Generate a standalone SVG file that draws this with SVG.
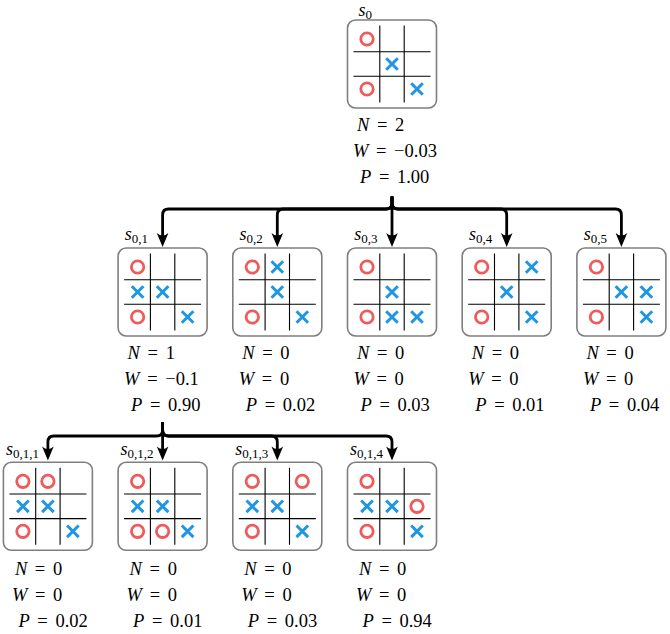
<svg xmlns="http://www.w3.org/2000/svg" xmlns:xlink="http://www.w3.org/1999/xlink" width="670" height="634" viewBox="0 0 670 634">
<style>
.box{fill:#fff;stroke:#7f7f7f;stroke-width:1.6}
.grid{stroke:#000;stroke-width:1.1;fill:none}
.o{fill:none;stroke:#ef5b5b;stroke-width:2.8}
.x{fill:none;stroke:#1e96e3;stroke-width:3}
.conn{fill:none;stroke:#000;stroke-width:2.8;stroke-linejoin:round}
.val{font-family:"Liberation Serif","DejaVu Serif",serif;font-size:18.5px;word-spacing:3px;fill:#000}
.lab{font-family:"Liberation Serif","DejaVu Serif",serif;font-size:18px;fill:#000}
.it{font-style:italic}
.sub{font-size:13px}
</style>
<defs>
<marker id="ah" markerUnits="userSpaceOnUse" viewBox="-15 -7 16 14" markerWidth="16" markerHeight="14" refX="-6" refY="0" orient="auto">
<path d="M0,0 L-14,-5.8 Q-9,0 -14,5.8 Z" fill="#000"/>
</marker>
<g id="gr">
<path class="grid" d="M-12.2,-38.5V38.5M12.2,-38.5V38.5M-38.5,-12.3H38.5M-38.5,12.3H38.5"/>
</g>
<circle id="O" class="o" r="6.2"/>
<path id="X" class="x" d="M-5.8,-5.8L5.8,5.8M5.8,-5.8L-5.8,5.8"/>
</defs>

<g id="connectors">
<path class="conn" marker-end="url(#ah)" d="M392,196.5V203Q392,209 386,209H168.6Q162.6,209 162.6,215V241"/>
<path class="conn" marker-end="url(#ah)" d="M392,196.5V203Q392,209 386,209H283.3Q277.3,209 277.3,215V241"/>
<path class="conn" marker-end="url(#ah)" d="M392,196.5V241"/>
<path class="conn" marker-end="url(#ah)" d="M392,196.5V203Q392,209 398,209H500.7Q506.7,209 506.7,215V241"/>
<path class="conn" marker-end="url(#ah)" d="M392,196.5V203Q392,209 398,209H615.4Q621.4,209 621.4,215V241"/>
<path class="conn" marker-end="url(#ah)" d="M162.6,422V430Q162.6,436 156.6,436H53.9Q47.9,436 47.9,442V454.5"/>
<path class="conn" marker-end="url(#ah)" d="M162.6,422V454.5"/>
<path class="conn" marker-end="url(#ah)" d="M162.6,422V430Q162.6,436 168.6,436H271.3Q277.3,436 277.3,442V454.5"/>
<path class="conn" marker-end="url(#ah)" d="M162.6,422V430Q162.6,436 168.6,436H386Q392,436 392,442V454.5"/>
</g>

<!-- root -->
<g id="s0" transform="translate(392,64)">
<rect class="box" x="-44.5" y="-44" width="89" height="88" rx="8"/>
<use xlink:href="#gr"/>
<use xlink:href="#O" x="-25" y="-25"/>
<use xlink:href="#X" x="0" y="0"/>
<use xlink:href="#O" x="-25" y="25"/><use xlink:href="#X" x="25" y="25"/>
<text class="lab" x="-20" y="-48.5" text-anchor="end"><tspan class="it">s</tspan><tspan class="sub" dy="3">0</tspan></text>
<text class="val" x="-35" y="67"><tspan class="it">N</tspan> = 2</text>
<text class="val" x="-39" y="93"><tspan class="it">W</tspan> = −0.03</text>
<text class="val" x="-32" y="119"><tspan class="it">P</tspan> = 1.00</text>
</g>

<!-- level 1 -->
<g id="s01" transform="translate(162.6,292)">
<rect class="box" x="-44.5" y="-44" width="89" height="88" rx="8"/>
<use xlink:href="#gr"/>
<use xlink:href="#O" x="-25" y="-25"/>
<use xlink:href="#X" x="-25" y="0"/><use xlink:href="#X" x="0" y="0"/>
<use xlink:href="#O" x="-25" y="25"/><use xlink:href="#X" x="25" y="25"/>
<text class="lab" x="-14.5" y="-52" text-anchor="end"><tspan class="it">s</tspan><tspan class="sub" dy="3">0,1</tspan></text>
<text class="val" x="-35" y="66.5"><tspan class="it">N</tspan> = 1</text>
<text class="val" x="-38.5" y="92.5"><tspan class="it">W</tspan> = −0.1</text>
<text class="val" x="-31.5" y="118.5"><tspan class="it">P</tspan> = 0.90</text>
</g>
<g id="s02" transform="translate(277.3,292)">
<rect class="box" x="-44.5" y="-44" width="89" height="88" rx="8"/>
<use xlink:href="#gr"/>
<use xlink:href="#O" x="-25" y="-25"/><use xlink:href="#X" x="0" y="-25"/>
<use xlink:href="#X" x="0" y="0"/>
<use xlink:href="#O" x="-25" y="25"/><use xlink:href="#X" x="25" y="25"/>
<text class="lab" x="-14.5" y="-52" text-anchor="end"><tspan class="it">s</tspan><tspan class="sub" dy="3">0,2</tspan></text>
<text class="val" x="-35" y="66.5"><tspan class="it">N</tspan> = 0</text>
<text class="val" x="-38.5" y="92.5"><tspan class="it">W</tspan> = 0</text>
<text class="val" x="-31.5" y="118.5"><tspan class="it">P</tspan> = 0.02</text>
</g>
<g id="s03" transform="translate(392,292)">
<rect class="box" x="-44.5" y="-44" width="89" height="88" rx="8"/>
<use xlink:href="#gr"/>
<use xlink:href="#O" x="-25" y="-25"/>
<use xlink:href="#X" x="0" y="0"/>
<use xlink:href="#O" x="-25" y="25"/><use xlink:href="#X" x="0" y="25"/><use xlink:href="#X" x="25" y="25"/>
<text class="lab" x="-14.5" y="-52" text-anchor="end"><tspan class="it">s</tspan><tspan class="sub" dy="3">0,3</tspan></text>
<text class="val" x="-35" y="66.5"><tspan class="it">N</tspan> = 0</text>
<text class="val" x="-38.5" y="92.5"><tspan class="it">W</tspan> = 0</text>
<text class="val" x="-31.5" y="118.5"><tspan class="it">P</tspan> = 0.03</text>
</g>
<g id="s04" transform="translate(506.7,292)">
<rect class="box" x="-44.5" y="-44" width="89" height="88" rx="8"/>
<use xlink:href="#gr"/>
<use xlink:href="#O" x="-25" y="-25"/><use xlink:href="#X" x="25" y="-25"/>
<use xlink:href="#X" x="0" y="0"/>
<use xlink:href="#O" x="-25" y="25"/><use xlink:href="#X" x="25" y="25"/>
<text class="lab" x="-14.5" y="-52" text-anchor="end"><tspan class="it">s</tspan><tspan class="sub" dy="3">0,4</tspan></text>
<text class="val" x="-35" y="66.5"><tspan class="it">N</tspan> = 0</text>
<text class="val" x="-38.5" y="92.5"><tspan class="it">W</tspan> = 0</text>
<text class="val" x="-31.5" y="118.5"><tspan class="it">P</tspan> = 0.01</text>
</g>
<g id="s05" transform="translate(621.4,292)">
<rect class="box" x="-44.5" y="-44" width="89" height="88" rx="8"/>
<use xlink:href="#gr"/>
<use xlink:href="#O" x="-25" y="-25"/>
<use xlink:href="#X" x="0" y="0"/><use xlink:href="#X" x="25" y="0"/>
<use xlink:href="#O" x="-25" y="25"/><use xlink:href="#X" x="25" y="25"/>
<text class="lab" x="-14.5" y="-52" text-anchor="end"><tspan class="it">s</tspan><tspan class="sub" dy="3">0,5</tspan></text>
<text class="val" x="-35" y="66.5"><tspan class="it">N</tspan> = 0</text>
<text class="val" x="-38.5" y="92.5"><tspan class="it">W</tspan> = 0</text>
<text class="val" x="-31.5" y="118.5"><tspan class="it">P</tspan> = 0.04</text>
</g>

<!-- level 2 -->
<g id="s011" transform="translate(47.9,506.3)">
<rect class="box" x="-44.5" y="-44" width="89" height="88" rx="8"/>
<use xlink:href="#gr"/>
<use xlink:href="#O" x="-25" y="-25"/><use xlink:href="#O" x="0" y="-25"/>
<use xlink:href="#X" x="-25" y="0"/><use xlink:href="#X" x="0" y="0"/>
<use xlink:href="#O" x="-25" y="25"/><use xlink:href="#X" x="25" y="25"/>
<text class="lab" x="-9" y="-51.5" text-anchor="end"><tspan class="it">s</tspan><tspan class="sub" dy="3">0,1,1</tspan></text>
<text class="val" x="-33" y="68.7"><tspan class="it">N</tspan> = 0</text>
<text class="val" x="-36" y="95.2"><tspan class="it">W</tspan> = 0</text>
<text class="val" x="-29.5" y="120.7"><tspan class="it">P</tspan> = 0.02</text>
</g>
<g id="s012" transform="translate(162.6,506.3)">
<rect class="box" x="-44.5" y="-44" width="89" height="88" rx="8"/>
<use xlink:href="#gr"/>
<use xlink:href="#O" x="-25" y="-25"/>
<use xlink:href="#X" x="-25" y="0"/><use xlink:href="#X" x="0" y="0"/>
<use xlink:href="#O" x="-25" y="25"/><use xlink:href="#O" x="0" y="25"/><use xlink:href="#X" x="25" y="25"/>
<text class="lab" x="-9" y="-51.5" text-anchor="end"><tspan class="it">s</tspan><tspan class="sub" dy="3">0,1,2</tspan></text>
<text class="val" x="-33" y="68.7"><tspan class="it">N</tspan> = 0</text>
<text class="val" x="-36" y="95.2"><tspan class="it">W</tspan> = 0</text>
<text class="val" x="-29.5" y="120.7"><tspan class="it">P</tspan> = 0.01</text>
</g>
<g id="s013" transform="translate(277.3,506.3)">
<rect class="box" x="-44.5" y="-44" width="89" height="88" rx="8"/>
<use xlink:href="#gr"/>
<use xlink:href="#O" x="-25" y="-25"/><use xlink:href="#O" x="25" y="-25"/>
<use xlink:href="#X" x="-25" y="0"/><use xlink:href="#X" x="0" y="0"/>
<use xlink:href="#O" x="-25" y="25"/><use xlink:href="#X" x="25" y="25"/>
<text class="lab" x="-9" y="-51.5" text-anchor="end"><tspan class="it">s</tspan><tspan class="sub" dy="3">0,1,3</tspan></text>
<text class="val" x="-33" y="68.7"><tspan class="it">N</tspan> = 0</text>
<text class="val" x="-36" y="95.2"><tspan class="it">W</tspan> = 0</text>
<text class="val" x="-29.5" y="120.7"><tspan class="it">P</tspan> = 0.03</text>
</g>
<g id="s014" transform="translate(392,506.3)">
<rect class="box" x="-44.5" y="-44" width="89" height="88" rx="8"/>
<use xlink:href="#gr"/>
<use xlink:href="#O" x="-25" y="-25"/>
<use xlink:href="#X" x="-25" y="0"/><use xlink:href="#X" x="0" y="0"/><use xlink:href="#O" x="25" y="0"/>
<use xlink:href="#O" x="-25" y="25"/><use xlink:href="#X" x="25" y="25"/>
<text class="lab" x="-9" y="-51.5" text-anchor="end"><tspan class="it">s</tspan><tspan class="sub" dy="3">0,1,4</tspan></text>
<text class="val" x="-33" y="68.7"><tspan class="it">N</tspan> = 0</text>
<text class="val" x="-36" y="95.2"><tspan class="it">W</tspan> = 0</text>
<text class="val" x="-29.5" y="120.7"><tspan class="it">P</tspan> = 0.94</text>
</g>
</svg>
